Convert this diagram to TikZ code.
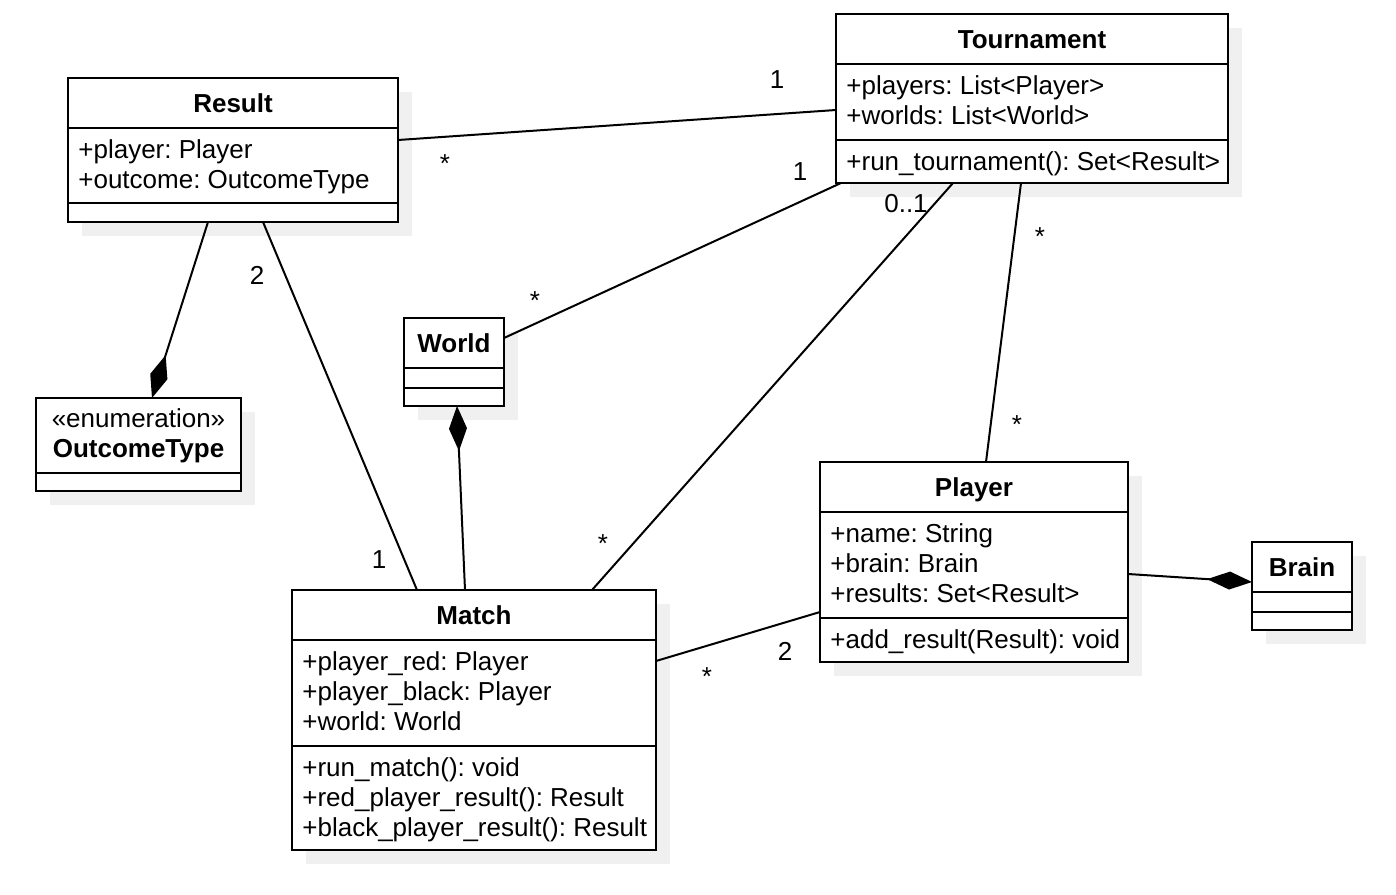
\documentclass[tikz,border=0pt]{standalone}
\usepackage{fontspec}
\setmainfont{Liberation Sans}
\frenchspacing
\usetikzlibrary{calc,arrows.meta,shadows}
\definecolor{shadowgray}{RGB}{240,240,240}
\tikzset{
  cls/.style={draw=black, line width=1pt, fill=white, anchor=north west, inner sep=0pt, outer sep=0pt,
    drop shadow={shadow xshift=7pt, shadow yshift=-7pt, fill=shadowgray, opacity=1}},
  sepline/.style={line width=1pt},
  ttl/.style={anchor=base, inner sep=0pt, font=\fontsize{13}{15}\selectfont\bfseries},
  attr/.style={anchor=base west, inner sep=0pt, font=\fontsize{13}{15}\selectfont},
  stereo/.style={anchor=base, inner sep=0pt, font=\fontsize{13}{15}\selectfont},
  mult/.style={anchor=base, inner sep=0pt, font=\fontsize{13}{15}\selectfont},
  assoc/.style={line width=1pt},
  comp/.style={line width=1pt, -{Diamond[length=22.5pt, width=9pt]}},
}
\begin{document}
\begin{tikzpicture}[x=0.5pt, y=-0.5pt]
\useasboundingbox (0,0) rectangle (1396,894);

% ---------- Result ----------
\node[cls, minimum width=165pt, minimum height=72pt] (result) at (68,78) {};
\draw[sepline] ($(result.north west)+(0,50)$) -- ($(result.north east)+(0,50)$);
\draw[sepline] ($(result.north west)+(0,125)$) -- ($(result.north east)+(0,125)$);
\node[ttl] (resultT) at ($(result.north)+(0,34)$) {Result};
\node[attr] (resultA1) at ($(result.north west)+(10,80)$) {+player: Player};
\node[attr] (resultA2) at ($(result.north west)+(10,110)$) {+outcome: OutcomeType};

% ---------- Tournament ----------
\node[cls, minimum width=196pt, minimum height=84.5pt] (tour) at (836,14) {};
\draw[sepline] ($(tour.north west)+(0,50)$) -- ($(tour.north east)+(0,50)$);
\draw[sepline] ($(tour.north west)+(0,126)$) -- ($(tour.north east)+(0,126)$);
\node[ttl] (tourT) at ($(tour.north)+(0,34)$) {Tournament};
\node[attr] (tourA1) at ($(tour.north west)+(10,80)$) {+players: List<Player>};
\node[attr] (tourA2) at ($(tour.north west)+(10,110)$) {+worlds: List<World>};
\node[attr] (tourO1) at ($(tour.north west)+(10,156)$) {+run\_tournament(): Set<Result>};

% ---------- World ----------
\node[cls, minimum width=50pt, minimum height=44pt] (world) at (404,318) {};
\draw[sepline] ($(world.north west)+(0,50)$) -- ($(world.north east)+(0,50)$);
\draw[sepline] ($(world.north west)+(0,70)$) -- ($(world.north east)+(0,70)$);
\node[ttl] (worldT) at ($(world.north)+(0,34)$) {World};

% ---------- OutcomeType ----------
\node[cls, minimum width=102.5pt, minimum height=46.5pt] (outcome) at (36,398) {};
\draw[sepline] ($(outcome.north west)+(0,75)$) -- ($(outcome.north east)+(0,75)$);
\node[stereo] (outcomeS) at ($(outcome.north)+(0,29)$) {«enumeration»};
\node[ttl] (outcomeT) at ($(outcome.north)+(0,59)$) {OutcomeType};

% ---------- Player ----------
\node[cls, minimum width=154pt, minimum height=100pt] (player) at (820,462) {};
\draw[sepline] ($(player.north west)+(0,50)$) -- ($(player.north east)+(0,50)$);
\draw[sepline] ($(player.north west)+(0,156)$) -- ($(player.north east)+(0,156)$);
\node[ttl] (playerT) at ($(player.north)+(0,34)$) {Player};
\node[attr] (playerA1) at ($(player.north west)+(10,80)$) {+name: String};
\node[attr] (playerA2) at ($(player.north west)+(10,110)$) {+brain: Brain};
\node[attr] (playerA3) at ($(player.north west)+(10,140)$) {+results: Set<Result>};
\node[attr] (playerO1) at ($(player.north west)+(10,186)$) {+add\_result(Result): void};

% ---------- Brain ----------
\node[cls, minimum width=50pt, minimum height=44pt] (brain) at (1252,542) {};
\draw[sepline] ($(brain.north west)+(0,50)$) -- ($(brain.north east)+(0,50)$);
\draw[sepline] ($(brain.north west)+(0,70)$) -- ($(brain.north east)+(0,70)$);
\node[ttl] (brainT) at ($(brain.north)+(0,34)$) {Brain};

% ---------- Match ----------
\node[cls, minimum width=182pt, minimum height=130pt] (match) at (292,590) {};
\draw[sepline] ($(match.north west)+(0,50)$) -- ($(match.north east)+(0,50)$);
\draw[sepline] ($(match.north west)+(0,156)$) -- ($(match.north east)+(0,156)$);
\node[ttl] (matchT) at ($(match.north)+(0,34)$) {Match};
\node[attr] (matchA1) at ($(match.north west)+(10,80)$) {+player\_red: Player};
\node[attr] (matchA2) at ($(match.north west)+(10,110)$) {+player\_black: Player};
\node[attr] (matchA3) at ($(match.north west)+(10,140)$) {+world: World};
\node[attr] (matchO1) at ($(match.north west)+(10,186)$) {+run\_match(): void};
\node[attr] (matchO2) at ($(match.north west)+(10,216)$) {+red\_player\_result(): Result};
\node[attr] (matchO3) at ($(match.north west)+(10,246)$) {+black\_player\_result(): Result};

% ---------- Connectors ----------
\draw[assoc] ($(result.north east)+(0,62)$) -- ($(tour.north west)+(0,96)$);
\draw[assoc] ($(tour.south west)+(5,0)$) -- ($(world.north east)+(0,20)$);
\draw[assoc] ($(tour.south west)+(117,0)$) -- ($(match.north west)+(300,0)$);
\draw[assoc] ($(tour.south west)+(185,0)$) -- ($(player.north west)+(166,0)$);
\draw[comp] ($(result.south west)+(140,0)$) -- ($(outcome.north west)+(116,0)$);
\draw[assoc] ($(result.south west)+(195,0)$) -- ($(match.north west)+(125,0)$);
\draw[comp] ($(match.north west)+(173,0)$) -- ($(world.south west)+(53,0)$);
\draw[assoc] ($(match.north east)+(0,71)$) -- ($(player.north west)+(0,150)$);
\draw[comp] ($(player.north east)+(0,112)$) -- ($(brain.north west)+(0,40)$);

% ---------- Multiplicities ----------
\node[mult] (m1) at (777,88) {1};
\node[mult] (m2) at (445,172) {*};
\node[mult] (m3) at (800,180) {1};
\node[mult] (m4) at (535,309) {*};
\node[mult] (m5) at (906,212) {0..1};
\node[mult] (m6) at (603,552) {*};
\node[mult] (m7) at (1040,245) {*};
\node[mult] (m8) at (1017,433) {*};
\node[mult] (m9) at (257,284) {2};
\node[mult] (m10) at (379,568) {1};
\node[mult] (m11) at (707,685) {*};
\node[mult] (m12) at (785,660) {2};
\end{tikzpicture}
\end{document}
